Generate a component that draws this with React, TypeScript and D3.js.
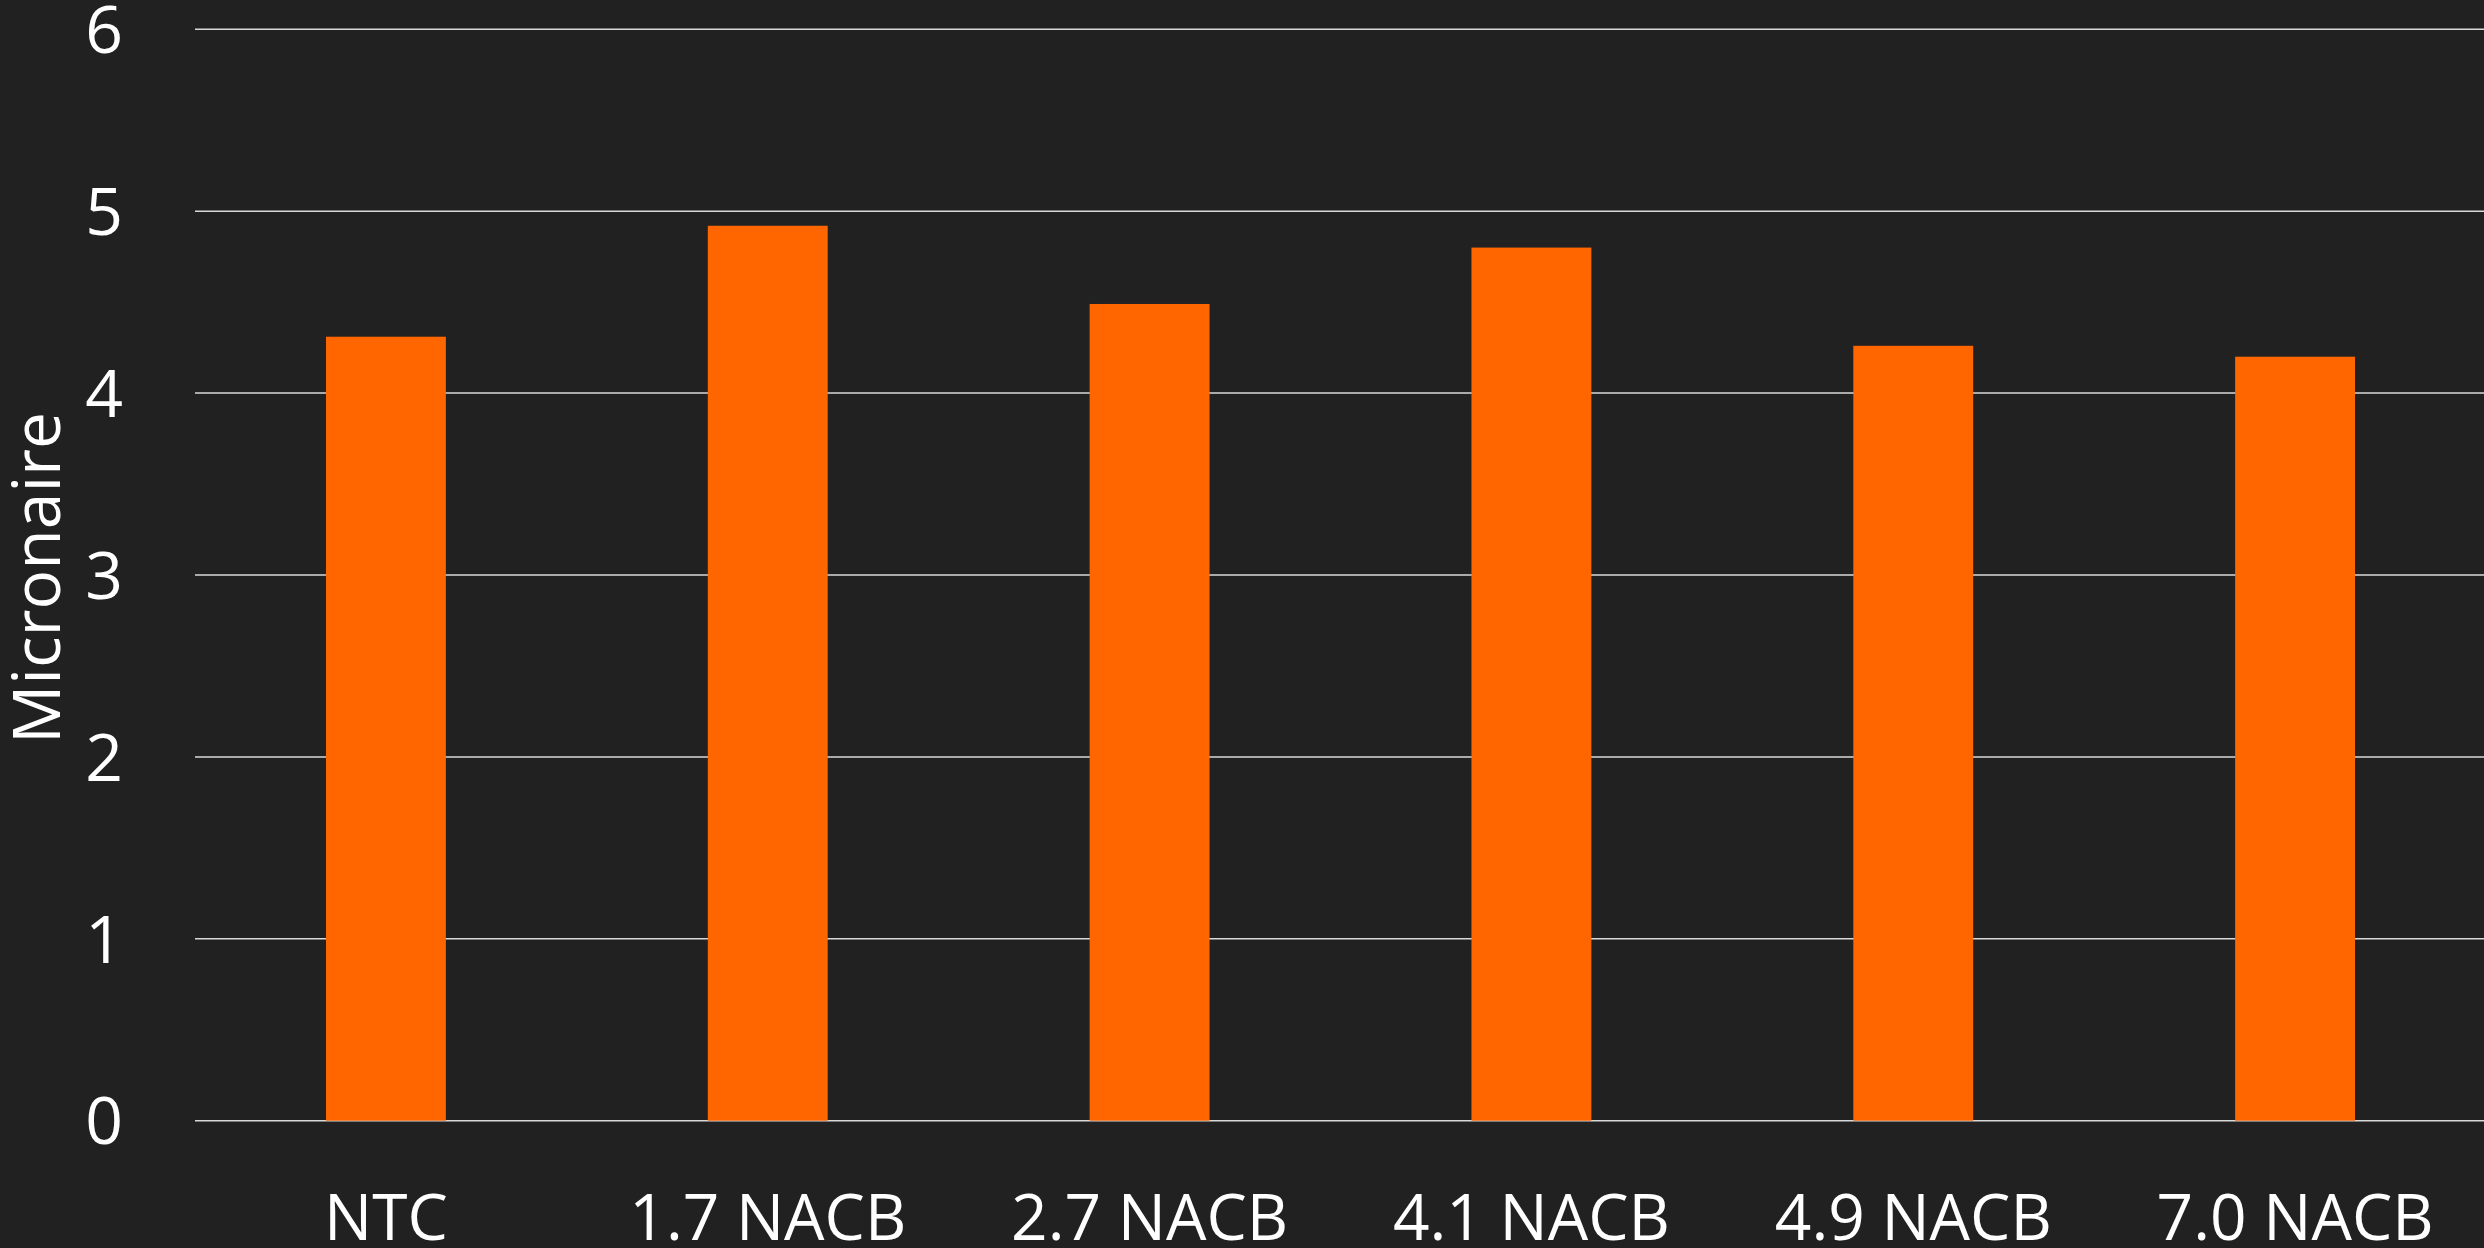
import * as d3 from "d3";

const categories = ["NTC", "1.7 NACB", "2.7 NACB", "4.1 NACB", "4.9 NACB", "7.0 NACB"];
const micronaire = [4.31, 4.92, 4.49, 4.8, 4.26, 4.2];
const yTicks = [0, 1, 2, 3, 4, 5, 6];

const W = 2484;
const H = 1248;
const font = "'Open Sans', sans-serif";

export default function App() {
  const x = d3
    .scaleBand<string>()
    .domain(categories)
    .range([195, 2486])
    .paddingInner(0.686)
    .paddingOuter(0.343);

  const y = d3.scaleLinear().domain([0, 6]).range([1120.7, 29.3]);

  return (
    <svg
      width={W}
      height={H}
      style={{ position: "absolute", left: 0, top: 0, background: "#212121" }}
    >
      <rect width={W} height={H} fill="#212121" />
      {yTicks.map((t) => (
        <g key={t}>
          <line
            x1={195}
            x2={W}
            y1={y(t)}
            y2={y(t)}
            stroke="#d9d9d9"
            strokeWidth={1.5}
          />
          <text
            x={123}
            y={y(t)}
            dy="0.36em"
            textAnchor="end"
            fill="#ffffff"
            fontFamily={font}
            fontSize={66}
          >
            {t}
          </text>
        </g>
      ))}
      {categories.map((c, i) => (
        <rect
          key={c}
          x={x(c)}
          y={y(micronaire[i])}
          width={x.bandwidth()}
          height={y(0) - y(micronaire[i])}
          fill="#ff6600"
        />
      ))}
      {categories.map((c) => (
        <text
          key={c}
          x={(x(c) ?? 0) + x.bandwidth() / 2}
          y={1240}
          textAnchor="middle"
          fill="#ffffff"
          fontFamily={font}
          fontSize={64}
        >
          {c}
        </text>
      ))}
      <text
        transform="translate(60,578) rotate(-90)"
        textAnchor="middle"
        fill="#ffffff"
        fontFamily={font}
        fontSize={66}
      >
        Micronaire
      </text>
    </svg>
  );
}
